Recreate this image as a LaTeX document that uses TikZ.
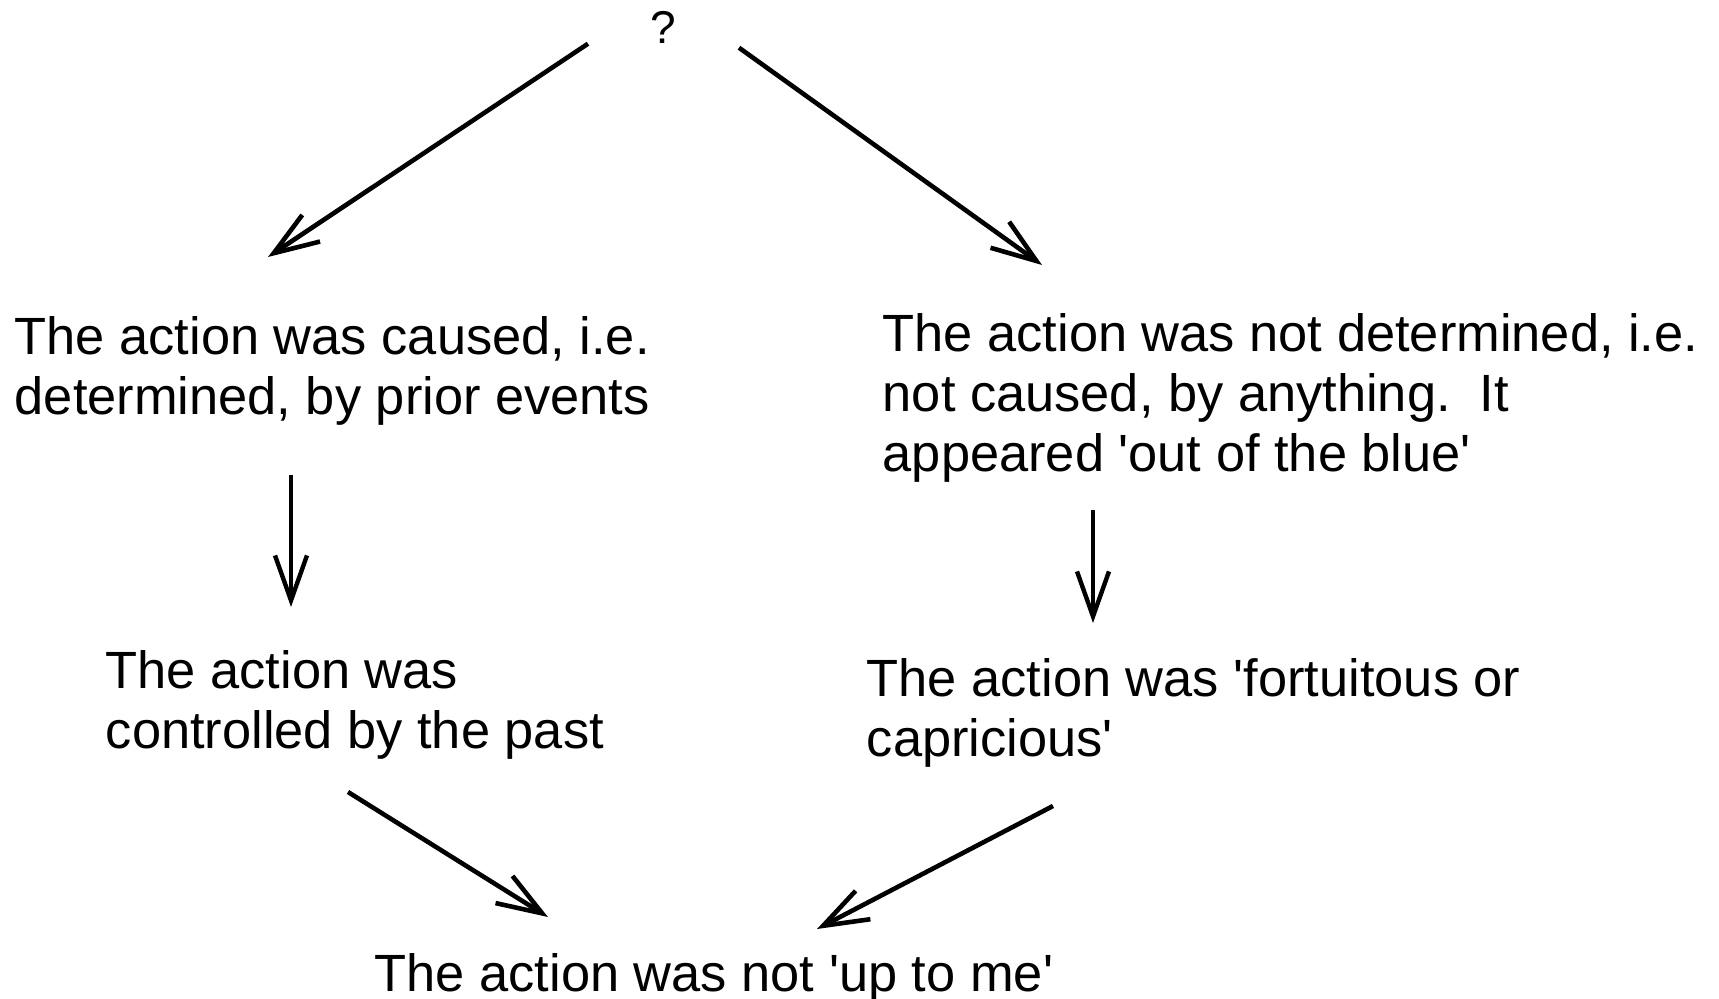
\documentclass[tikz,border=0pt]{standalone}
\usepackage{fontspec}
\newfontfamily\arialfont{Liberation Sans}
\usepackage{tikz}
\usetikzlibrary{calc}
\usetikzlibrary{arrows.meta}
\tikzset{
	every path/.style={thick},
	claim/.style={
		anchor=north west,
		inner sep=0pt,
		align=left,
		font=\arialfont\fontsize{26.2}{30}\selectfont,
	},
	query/.style={
		anchor=north,
		inner sep=0pt,
		font=\arialfont\fontsize{23}{27}\selectfont,
	},
	branch/.style={
		line width=2.3pt,
		-{Straight Barb[length=22.5pt,width=16pt]}
	},
	leads/.style={
		line width=1.6pt,
		-{Straight Barb[length=22.5pt,width=16pt,line width=2.2pt]}
	},
}

\begin{document}
\begin{tikzpicture}[x=0.5pt,y=-0.5pt]
		\useasboundingbox (0,0) rectangle (1719,999);

		\node[query]  (q)       at (663,11)  {?};
		\node[claim]  (caused)  at (14,316)  {The action was caused, i.e.\\determined, by prior events};
		\node[claim]  (notdet)  at (882,313) {The action was not determined, i.e.\\not caused, by anything.\ \ It\\appeared 'out of the blue'};
		\node[claim]  (past)    at (105,650) {The action was\\controlled by the past};
		\node[claim]  (fortuit) at (866,658) {The action was 'fortuitous or\\capricious'};
		\node[claim]  (notup)   at (374,953) {The action was not 'up to me'};

		\draw[branch] ($(q.south)+(-75,-1)$) -- ($(caused.north west)+(254,-59)$);
		\draw[branch] ($(q.south)+(76,3)$) -- ($(notdet.north west)+(160,-48)$);
		\draw[leads] ($(caused.north west)+(277,159)$) -- ($(past.north west)+(186,-43)$);
		\draw[leads] ($(notdet.north west)+(211,197)$) -- ($(fortuit.north west)+(227,-35)$);
		\draw[branch] ($(past.north west)+(243,142)$) -- ($(notup.north west)+(174,-36)$);
		\draw[branch] ($(fortuit.north west)+(187,148)$) -- ($(notup.north west)+(443,-24)$);

	\end{tikzpicture}
\end{document}
